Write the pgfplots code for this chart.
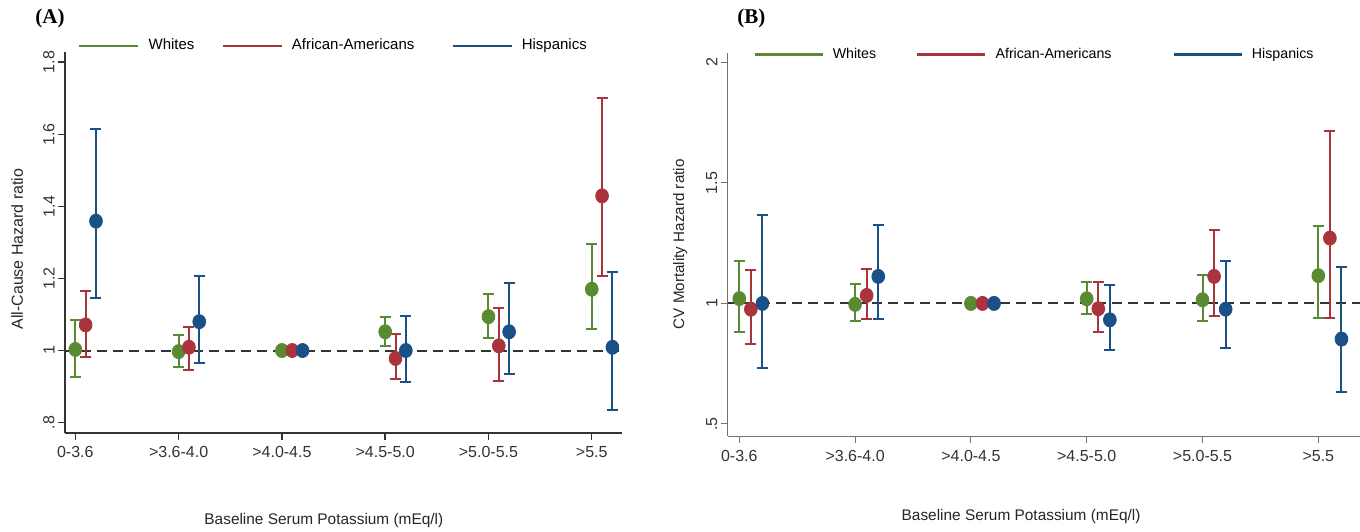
\documentclass[border=0pt]{standalone}
\usepackage{pgfplots}
\usepackage{pgfplotstable}
\pgfplotsset{compat=1.18}
\usepackage{fontspec}
\setmainfont{Liberation Sans}
\newfontfamily\titlefont{Liberation Serif}

\definecolor{cw}{RGB}{90,138,50}
\definecolor{ca}{RGB}{170,52,62}
\definecolor{ch}{RGB}{25,80,135}

% x, estimate, lower CI, upper CI
\pgfplotstableread{
x y lo hi
0 1.003 0.927 1.085
1 0.997 0.953 1.044
2 1.000 1.000 1.000
3 1.052 1.012 1.094
4 1.094 1.034 1.157
5 1.170 1.060 1.296
}\Awhite
\pgfplotstableread{
x y lo hi
0.1 1.071 0.981 1.166
1.1 1.009 0.946 1.066
2.1 1.000 1.000 1.000
3.1 0.978 0.920 1.046
4.1 1.013 0.916 1.117
5.1 1.429 1.207 1.700
}\Aafam
\pgfplotstableread{
x y lo hi
0.2 1.359 1.147 1.615
1.2 1.080 0.964 1.207
2.2 1.000 1.000 1.000
3.2 1.000 0.912 1.097
4.2 1.052 0.935 1.188
5.2 1.009 0.835 1.219
}\Ahisp
\pgfplotstableread{
x y lo hi
0 1.020 0.883 1.174
1 0.996 0.925 1.081
2 1.000 1.000 1.000
3 1.019 0.955 1.088
4 1.015 0.925 1.119
5 1.115 0.941 1.322
}\Bwhite
\pgfplotstableread{
x y lo hi
0.1 0.976 0.832 1.137
1.1 1.033 0.935 1.144
2.1 1.000 1.000 1.000
3.1 0.978 0.883 1.088
4.1 1.112 0.946 1.303
5.1 1.271 0.939 1.714
}\Bafam
\pgfplotstableread{
x y lo hi
0.2 1.000 0.734 1.366
1.2 1.112 0.935 1.326
2.2 1.000 1.000 1.000
3.2 0.932 0.807 1.077
4.2 0.976 0.814 1.174
5.2 0.852 0.632 1.153
}\Bhisp

\pgfplotsset{
  ci/.style={forget plot, only marks, mark=*, mark size=3.2pt, color=#1,
    mark options={yscale=1.1},
    error bars/.cd, y dir=both, y explicit, error mark=|,
    error bar style={line width=1pt, #1},
    error mark options={line width=1pt, mark size=2.75pt, #1}},
  stata/.style={
    scale only axis, clip=false,
    axis x line*=bottom, axis y line*=left, axis line style={-},
    tick align=outside, major tick length=3.5pt,
    xmin=-0.1, xtick={0,...,5},
    xticklabels={0-3.6,>3.6-4.0,>4.0-4.5,>4.5-5.0,>5.0-5.5,>5.5},
    ticklabel style={font=\fontsize{8}{9}\selectfont, text=black!80},
    yticklabel style={rotate=90, anchor=south, inner sep=1.5pt},
    label style={font=\fontsize{7.7}{9}\selectfont, text=black!85},
    legend style={draw=none, fill=none, inner sep=0pt, anchor=west,
      font=\fontsize{7.5}{9}\selectfont, legend columns=3,
      /tikz/every odd column/.append style={column sep=2.5pt}},
  },
}

\begin{document}
\begin{tikzpicture}
\useasboundingbox (0,0) rectangle (680pt,265.5pt);

\begin{axis}[stata, at={(32.5pt,49.15pt)}, anchor=south west,
  width=278.35pt, height=190.5pt,
  xmax=5.29, ymin=0.772, ymax=1.829,
  ytick={0.8,1,1.2,1.4,1.6,1.8}, yticklabels={.8,1,1.2,1.4,1.6,1.8},
  axis line style={black!80, line width=0.8pt}, tick style={black!80, line width=0.7pt},
  xlabel={Baseline Serum Potassium (mEq/l)},
  xlabel style={at={(axis description cs:0.465,-0.23)}, anchor=center},
  ylabel={All-Cause Hazard ratio},
  ylabel style={at={(axis description cs:-0.086,0.482)}, anchor=center, font=\fontsize{8}{9}\selectfont},
  legend style={at={(axis description cs:0.023,1.015)},
    /tikz/column 2/.append style={column sep=11.5pt},
    /tikz/column 4/.append style={column sep=16.5pt}},
  legend image code/.code={\draw[#1] (0pt,0pt) -- (29.5pt,0pt);},
]
\addplot[forget plot, black!80, line width=1pt, dash pattern=on 5pt off 3pt] coordinates {(-0.1,1) (5.29,1)};
\addplot[ci=cw] table[x=x, y=y, y error plus expr=\thisrow{hi}-\thisrow{y}, y error minus expr=\thisrow{y}-\thisrow{lo}] {\Awhite};
\addplot[ci=ca] table[x=x, y=y, y error plus expr=\thisrow{hi}-\thisrow{y}, y error minus expr=\thisrow{y}-\thisrow{lo}] {\Aafam};
\addplot[ci=ch] table[x=x, y=y, y error plus expr=\thisrow{hi}-\thisrow{y}, y error minus expr=\thisrow{y}-\thisrow{lo}] {\Ahisp};
\addlegendimage{cw, line width=1.2pt}\addlegendentry{Whites}
\addlegendimage{ca, line width=1.2pt}\addlegendentry{African-Americans}
\addlegendimage{ch, line width=1.2pt}\addlegendentry{Hispanics}
\end{axis}

\begin{axis}[stata, at={(363.85pt,47.5pt)}, anchor=south west,
  width=316.15pt, height=191.65pt,
  xmax=5.36, ymin=0.45, ymax=2.04,
  ytick={0.5,1,1.5,2}, yticklabels={.5,1,1.5,2},
  axis line style={black!55, line width=0.5pt}, tick style={black!55, line width=0.5pt},
  xlabel={Baseline Serum Potassium (mEq/l)},
  xlabel style={at={(axis description cs:0.464,-0.21)}, anchor=center},
  ylabel={CV Mortality Hazard ratio},
  ylabel style={at={(axis description cs:-0.075,0.5)}, anchor=center, font=\fontsize{7.6}{9}\selectfont},
  legend style={at={(axis description cs:0.04,0.995)}, font=\fontsize{7.1}{9}\selectfont,
    /tikz/column 2/.append style={column sep=18pt},
    /tikz/column 4/.append style={column sep=28.5pt}},
  legend image code/.code={\draw[#1] (0pt,0pt) -- (34pt,0pt);},
]
\addplot[forget plot, black!80, line width=1pt, dash pattern=on 5pt off 3pt] coordinates {(-0.1,1) (5.36,1)};
\addplot[ci=cw] table[x=x, y=y, y error plus expr=\thisrow{hi}-\thisrow{y}, y error minus expr=\thisrow{y}-\thisrow{lo}] {\Bwhite};
\addplot[ci=ca] table[x=x, y=y, y error plus expr=\thisrow{hi}-\thisrow{y}, y error minus expr=\thisrow{y}-\thisrow{lo}] {\Bafam};
\addplot[ci=ch] table[x=x, y=y, y error plus expr=\thisrow{hi}-\thisrow{y}, y error minus expr=\thisrow{y}-\thisrow{lo}] {\Bhisp};
\addlegendimage{cw, line width=1.2pt}\addlegendentry{Whites}
\addlegendimage{ca, line width=1.2pt}\addlegendentry{African-Americans}
\addlegendimage{ch, line width=1.2pt}\addlegendentry{Hispanics}
\end{axis}

\node[anchor=west, inner sep=0pt] at (17.5pt,256.5pt) {\titlefont\bfseries\fontsize{10.5}{12}\selectfont (A)};
\node[anchor=west, inner sep=0pt] at (368.5pt,256.5pt) {\titlefont\bfseries\fontsize{10.5}{12}\selectfont (B)};
\end{tikzpicture}
\end{document}
